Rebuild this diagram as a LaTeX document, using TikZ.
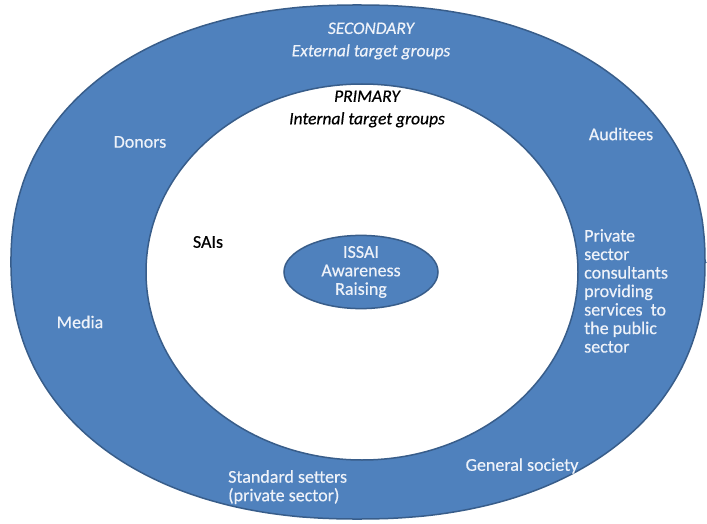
\documentclass[tikz,border=0pt]{standalone}
\usepackage{fontspec}
\setmainfont{Carlito}[FakeBold=0.4]
\usetikzlibrary{shapes.geometric}

\definecolor{ringblue}{HTML}{4F81BD}
\definecolor{edgeblue}{HTML}{385D8A}
\definecolor{paletext}{HTML}{EEF2F9}

\tikzset{
  grouptext/.style={text=paletext, font=\fontsize{18}{18.5}\selectfont},
  innertext/.style={text=black, font=\fontsize{18}{18.5}\selectfont},
  headtext/.style={font=\fontsize{17.5}{22.5}\selectfont\itshape, align=center}
}

\begin{document}
\begin{tikzpicture}[x=1pt, y=-1pt]
			\useasboundingbox (0,0) rectangle (707,524);
			% Outer ring - secondary groups
			\draw[line width=1.5pt, draw=edgeblue, fill=ringblue]
			     plot[domain=0:360, samples=240, smooth cycle]
			     ({358 + 347*sign(cos(\x))*abs(cos(\x))^(0.91)}, {262 + 257*sign(sin(\x))*abs(sin(\x))^(0.91)});
			% Inner area - primary groups
			\draw[line width=1.5pt, draw=edgeblue, fill=white] (362,272) ellipse [x radius=216, y radius=188];
			
			% Headings
			\node[headtext, text=paletext] (secondary) at (371,41) {SECONDARY\\External target groups};
			\node[headtext, text=black] (primary) at (367,109) {PRIMARY\\Internal target groups};
			
			% Centre
			\node[ellipse, draw=edgeblue, line width=1.5pt, fill=ringblue, minimum width=154, minimum height=68,
			      inner sep=0pt, align=center, grouptext] (issai) at (361,272) {ISSAI\\Awareness\\Raising};
			
			% Internal group
			\node[innertext] (sais) at (208,242) {SAIs};
			
			% External groups
			\node[grouptext] (donors) at (140,142) {Donors};
			\node[grouptext] (auditees) at (621,134) {Auditees};
			\node[grouptext] (media) at (80,322) {Media};
			\node[grouptext, anchor=north west, align=left, inner sep=0pt] (consultants) at (584,229)
			     {Private\\sector\\consultants\\providing\\services\ \ to\\the public\\sector};
			\node[grouptext, anchor=north west, align=left, inner sep=0pt] (setters) at (228,470)
			     {Standard setters\\(private sector)};
			\node[grouptext] (society) at (522,466) {General society};
		\end{tikzpicture}
\end{document}
